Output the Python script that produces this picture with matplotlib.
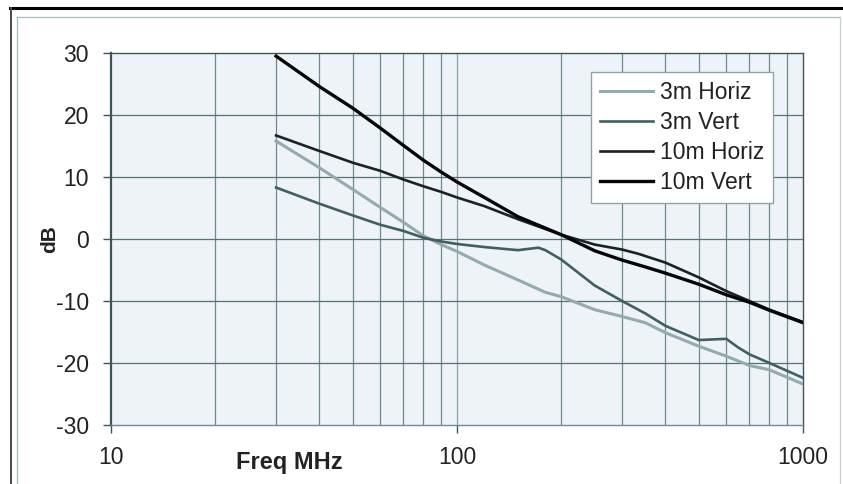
import matplotlib
matplotlib.use("Agg")
import matplotlib.pyplot as plt
from matplotlib.lines import Line2D
from matplotlib.ticker import FixedLocator, NullFormatter

plt.rcParams['font.family'] = ['Liberation Sans', 'DejaVu Sans']
plt.rcParams['axes.unicode_minus'] = False

# data (freq in MHz, level in dB)
f_3m_h = [30, 40, 50, 60, 70, 80, 90, 100, 120, 150, 180, 200, 250, 300, 350, 400, 500, 600, 700, 800, 1000]
v_3m_h = [15.8, 11.5, 8.0, 5.1, 2.7, 0.5, -0.9, -2.0, -4.2, -6.6, -8.6, -9.3, -11.4, -12.5, -13.5, -15.1, -17.3, -18.9, -20.4, -21.1, -23.4]

f_3m_v = [30, 40, 50, 60, 70, 80, 90, 100, 120, 150, 172, 180, 200, 250, 300, 350, 400, 500, 600, 650, 700, 800, 1000]
v_3m_v = [8.3, 5.7, 3.8, 2.3, 1.3, 0.2, -0.4, -0.8, -1.3, -1.8, -1.4, -1.8, -3.3, -7.5, -10.0, -12.0, -14.0, -16.3, -16.1, -17.5, -18.6, -20.0, -22.4]

f_10m_h = [30, 40, 50, 60, 70, 80, 90, 100, 120, 150, 200, 250, 300, 335, 400, 500, 600, 700, 800, 1000]
v_10m_h = [16.7, 14.2, 12.3, 11.0, 9.6, 8.5, 7.6, 6.7, 5.3, 3.2, 0.7, -0.9, -1.7, -2.4, -3.8, -6.2, -8.4, -10.0, -11.4, -13.4]

f_10m_v = [30, 40, 50, 60, 70, 80, 90, 100, 120, 150, 200, 250, 300, 350, 400, 500, 600, 700, 800, 1000]
v_10m_v = [29.5, 24.6, 21.1, 17.9, 15.1, 12.7, 10.8, 9.2, 6.7, 3.6, 0.7, -1.9, -3.4, -4.5, -5.5, -7.3, -9.0, -10.2, -11.5, -13.5]

labels = ["3m Horiz", "3m Vert", "10m Horiz", "10m Vert"]
minor_f = [20, 30, 40, 50, 60, 70, 80, 90, 200, 300, 400, 500, 600, 700, 800, 900]

W, H = 843, 484
fig = plt.figure(figsize=(W / 100, H / 100), dpi=100)
fig.patch.set_facecolor("white")

# outer frame of the original screenshot
def px_line(x0, y0, x1, y1, **kw):
    fig.add_artist(Line2D([x0 / W, x1 / W], [1 - y0 / H, 1 - y1 / H], transform=fig.transFigure, **kw))

px_line(10, 8, 843, 8, color="black", lw=2.2)
px_line(11, 8, 11, 484, color="#4a4a4a", lw=1.4)
px_line(17, 17, 840, 17, color="#a7bcc0", lw=0.9)
px_line(17, 17, 17, 484, color="#a7bcc0", lw=0.9)
px_line(840, 17, 840, 484, color="#c5d3d6", lw=0.9)

ax = fig.add_axes([111 / W, 1 - 425 / H, (803 - 111) / W, (425 - 53) / H])
ax.set_facecolor("#eef3f7")
ax.set_xscale("log")
ax.set_xlim(10, 1000)
ax.set_ylim(-30, 30)

grid_c = "#567276"
for f in minor_f:
    ax.axvline(f, color="#6d8b90", lw=0.9, zorder=1)
ax.axvline(100, color="#8aa3a8", lw=0.9, zorder=1)
for y in range(-20, 30, 10):
    ax.axhline(y, color=grid_c, lw=0.9, zorder=1)

ax.plot(f_3m_h, v_3m_h, color="#93abb0", lw=2.2, label=labels[0], zorder=3)
ax.plot(f_3m_v, v_3m_v, color="#3f5f63", lw=1.9, label=labels[1], zorder=3)
ax.plot(f_10m_h, v_10m_h, color="#1a2224", lw=1.9, label=labels[2], zorder=4)
ax.plot(f_10m_v, v_10m_v, color="#050505", lw=2.4, label=labels[3], zorder=4)

ax.xaxis.set_major_locator(FixedLocator([10, 100, 1000]))
ax.xaxis.set_minor_locator(FixedLocator([]))
ax.xaxis.set_minor_formatter(NullFormatter())
ax.set_xticklabels(["10", "100", "1000"])
ax.set_yticks(range(-30, 31, 10))
ax.tick_params(axis="both", which="major", labelsize=16.5, colors="#3b5558", labelcolor="#222222",
               length=6, width=1.0)
ax.tick_params(axis="y", pad=10)
ax.tick_params(axis="x", pad=9)

for side in ["left", "top", "right"]:
    ax.spines[side].set_color("#3b5558")
ax.spines["left"].set_linewidth(1.6)
ax.spines["top"].set_linewidth(1.0)
ax.spines["right"].set_linewidth(1.0)
ax.spines["bottom"].set_color("#6d8b90")
ax.spines["bottom"].set_linewidth(1.0)

ax.set_xlabel("Freq MHz", fontsize=17, fontweight="bold", color="#222222")
ax.xaxis.set_label_coords(0.258, -0.1)
ax.xaxis.label.set_verticalalignment("center")
ax.set_ylabel("dB", fontsize=15, fontweight="bold", color="#222222")
ax.yaxis.set_label_coords(-0.088, 0.5)
ax.yaxis.label.set_verticalalignment("center")

leg = ax.legend(loc="upper right", bbox_to_anchor=(0.957, 0.949), borderaxespad=0,
                fontsize=16.5, fancybox=False, framealpha=1, edgecolor="#8fa4a8",
                handlelength=2.3, handletextpad=0.3, labelspacing=0.3, borderpad=0.4)
leg.get_frame().set_linewidth(1.0)
for t in leg.get_texts():
    t.set_color("#222222")

fig.savefig("out.png", dpi=100, facecolor="white")
